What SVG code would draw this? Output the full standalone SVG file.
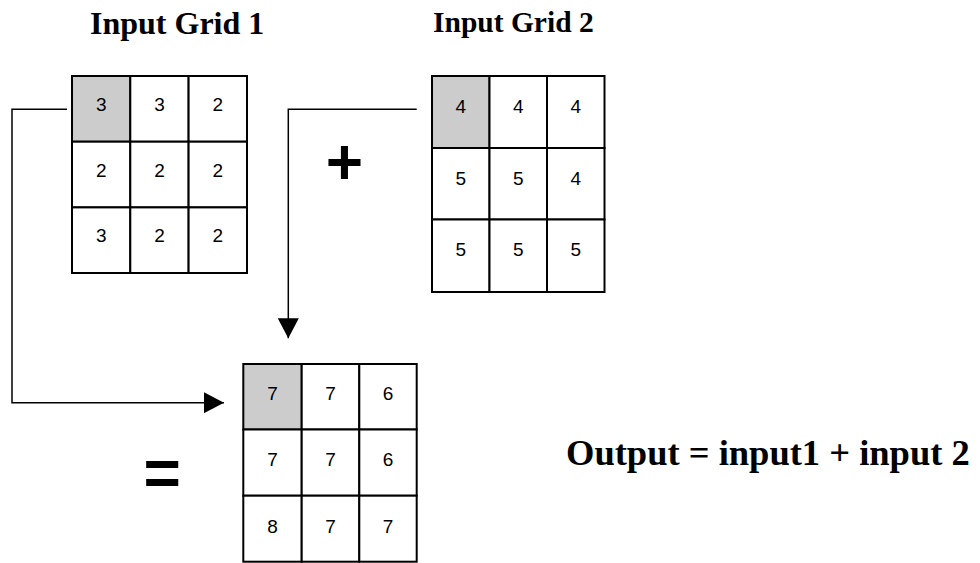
<svg xmlns="http://www.w3.org/2000/svg" width="980" height="563" viewBox="0 0 980 563">
<defs>
<style>
.cell{fill:#ffffff;stroke:#000000;stroke-width:2}
.hl{fill:#cccccc;stroke:#000000;stroke-width:2}
.num{font-family:"Liberation Sans",Arial,sans-serif;font-size:19px;fill:#000000;text-anchor:middle}
.title{font-family:"Liberation Serif","Times New Roman",serif;font-size:32px;font-weight:bold;fill:#000000}
.op{font-family:"Liberation Sans",Arial,sans-serif;font-size:64px;font-weight:bold;fill:#000000;text-anchor:middle}
.conn{fill:none;stroke:#000000;stroke-width:1.5}
</style>
<marker id="arrow" markerUnits="userSpaceOnUse" markerWidth="20" markerHeight="21" viewBox="0 0 20 21" refX="20" refY="10.5" orient="auto">
<path d="M0,0 L20,10.5 L0,21 Z" fill="#000000"/>
</marker>
</defs>
<rect x="0" y="0" width="980" height="563" fill="#ffffff"/>

<g id="title1"><text class="title" x="90" y="34">Input Grid 1</text></g>
<g id="title2"><text class="title" x="433" y="32" style="font-size:29.5px">Input Grid 2</text></g>

<g id="grid1">
<rect class="hl" x="72" y="76" width="58.3" height="65.7"/>
<rect class="cell" x="130.3" y="76" width="58.3" height="65.7"/>
<rect class="cell" x="188.6" y="76" width="58.4" height="65.7"/>
<rect class="cell" x="72" y="141.7" width="58.3" height="65.7"/>
<rect class="cell" x="130.3" y="141.7" width="58.3" height="65.7"/>
<rect class="cell" x="188.6" y="141.7" width="58.4" height="65.7"/>
<rect class="cell" x="72" y="207.4" width="58.3" height="65.6"/>
<rect class="cell" x="130.3" y="207.4" width="58.3" height="65.6"/>
<rect class="cell" x="188.6" y="207.4" width="58.4" height="65.6"/>
<text class="num" x="101.2" y="111">3</text>
<text class="num" x="159.5" y="111">3</text>
<text class="num" x="217.8" y="111">2</text>
<text class="num" x="101.2" y="176.7">2</text>
<text class="num" x="159.5" y="176.7">2</text>
<text class="num" x="217.8" y="176.7">2</text>
<text class="num" x="101.2" y="242.4">3</text>
<text class="num" x="159.5" y="242.4">2</text>
<text class="num" x="217.8" y="242.4">2</text>
</g>

<g id="grid2">
<rect class="hl" x="432" y="76" width="57.5" height="72"/>
<rect class="cell" x="489.5" y="76" width="57.5" height="72"/>
<rect class="cell" x="547" y="76" width="57.5" height="72"/>
<rect class="cell" x="432" y="148" width="57.5" height="71.5"/>
<rect class="cell" x="489.5" y="148" width="57.5" height="71.5"/>
<rect class="cell" x="547" y="148" width="57.5" height="71.5"/>
<rect class="cell" x="432" y="219.5" width="57.5" height="72.5"/>
<rect class="cell" x="489.5" y="219.5" width="57.5" height="72.5"/>
<rect class="cell" x="547" y="219.5" width="57.5" height="72.5"/>
<text class="num" x="460.8" y="112.5">4</text>
<text class="num" x="518.3" y="112.5">4</text>
<text class="num" x="575.8" y="112.5">4</text>
<text class="num" x="460.8" y="185">5</text>
<text class="num" x="518.3" y="185">5</text>
<text class="num" x="575.8" y="185">4</text>
<text class="num" x="460.8" y="256">5</text>
<text class="num" x="518.3" y="256">5</text>
<text class="num" x="575.8" y="256">5</text>
</g>

<g id="grid3">
<rect class="hl" x="243.3" y="364" width="58.4" height="65.5"/>
<rect class="cell" x="301.7" y="364" width="57.6" height="65.5"/>
<rect class="cell" x="359.3" y="364" width="57.4" height="65.5"/>
<rect class="cell" x="243.3" y="429.5" width="58.4" height="66.2"/>
<rect class="cell" x="301.7" y="429.5" width="57.6" height="66.2"/>
<rect class="cell" x="359.3" y="429.5" width="57.4" height="66.2"/>
<rect class="cell" x="243.3" y="495.7" width="58.4" height="66"/>
<rect class="cell" x="301.7" y="495.7" width="57.6" height="66"/>
<rect class="cell" x="359.3" y="495.7" width="57.4" height="66"/>
<text class="num" x="272.5" y="400">7</text>
<text class="num" x="330.5" y="400">7</text>
<text class="num" x="388" y="400">6</text>
<text class="num" x="272.5" y="466">7</text>
<text class="num" x="330.5" y="466">7</text>
<text class="num" x="388" y="466">6</text>
<text class="num" x="272.5" y="532.5">8</text>
<text class="num" x="330.5" y="532.5">7</text>
<text class="num" x="388" y="532.5">7</text>
</g>

<g id="connectors">
<polyline class="conn" points="67,109.3 12,109.3 12,402.7 224,402.7" marker-end="url(#arrow)"/>
<polyline class="conn" points="416.7,109.3 288.3,109.3 288.3,338.3" marker-end="url(#arrow)"/>
</g>

<g id="plus"><text class="op" x="344.5" y="184">+</text></g>
<g id="equals"><text class="op" x="162.3" y="495">=</text></g>

<g id="formula"><text class="title" x="566" y="465" style="font-size:36.5px">Output = input1 + input 2</text></g>
</svg>
